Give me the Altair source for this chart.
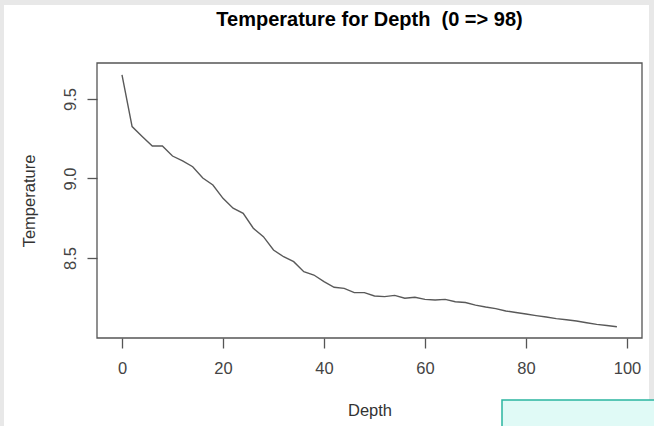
import altair as alt
import pandas as pd

depth = [0, 2, 4, 6, 8, 10, 12, 14, 16, 18, 20, 22, 24, 26, 28, 30, 32, 34, 36, 38,
         40, 42, 44, 46, 48, 50, 52, 54, 56, 58, 60, 62, 64, 66, 68, 70, 72, 74, 76, 78,
         80, 82, 84, 86, 88, 90, 92, 94, 96, 98]
temperature = [9.651, 9.326, 9.264, 9.204, 9.204, 9.141, 9.110, 9.074, 9.003, 8.959,
               8.875, 8.813, 8.781, 8.687, 8.634, 8.550, 8.508, 8.477, 8.414, 8.393,
               8.351, 8.316, 8.309, 8.282, 8.282, 8.261, 8.257, 8.265, 8.247, 8.253,
               8.240, 8.236, 8.240, 8.225, 8.220, 8.204, 8.192, 8.182, 8.167, 8.157,
               8.148, 8.138, 8.129, 8.119, 8.112, 8.104, 8.093, 8.083, 8.076, 8.068]
x_ticks = [0, 20, 40, 60, 80, 100]
y_ticks = [8.5, 9.0, 9.5]
title_text = ["Temperature for Depth \u00a0(0 => 98)"]

W, H = 545, 275
FONT = "Liberation Sans"
GREY = "#555555"
FS = 16.5

df = pd.DataFrame({"Depth": depth, "Temperature": temperature})
one = pd.DataFrame({"k": [0]})
tdf = pd.DataFrame({"t": title_text})

panel = alt.Chart(one).mark_rect(fill="white", strokeOpacity=0).encode(
    x=alt.value(-93), x2=alt.value(552), y=alt.value(-58), y2=alt.value(370)
)

cyan = alt.Chart(one).mark_rect(fill="#e0faf6", stroke="#2ab5a0", strokeWidth=1.5).encode(
    x=alt.value(405), x2=alt.value(570), y=alt.value(337), y2=alt.value(380)
)

title = alt.Chart(tdf).mark_text(font=FONT, fontSize=20, fontWeight="bold", color="black",
                                 align="center", baseline="middle").encode(
    text="t:N", x=alt.value(W / 2), y=alt.value(-43)
)

line = alt.Chart(df).mark_line(color="#595959", strokeWidth=1.4).encode(
    x=alt.X("Depth:Q",
            scale=alt.Scale(domain=[-4.95, 102.97], nice=False, zero=False),
            axis=alt.Axis(values=x_ticks, title="Depth", labelPadding=12,
                          titlePadding=26, zindex=1)),
    y=alt.Y("Temperature:Q",
            scale=alt.Scale(domain=[7.997, 9.726], nice=False, zero=False),
            axis=alt.Axis(values=y_ticks, format=".1f", title="Temperature",
                          labelAngle=270, labelAlign="center", labelBaseline="bottom",
                          labelPadding=9, titlePadding=25, zindex=1)),
)

frame = alt.Chart(one).mark_rect(fillOpacity=0, stroke=GREY, strokeWidth=1.3).encode(
    x=alt.value(0), x2=alt.value(W), y=alt.value(0), y2=alt.value(H)
)

chart = alt.layer(panel, cyan, title, line, frame).properties(
    width=W, height=H,
    autosize=alt.AutoSizeParams(type="none"),
    padding={"left": 97, "top": 63, "right": 12, "bottom": 88},
    background="#e8e8e8",
).configure_view(stroke=None).configure_axis(
    grid=False, domain=False, tickColor=GREY, tickSize=10, tickWidth=1.3,
    labelFont=FONT, labelFontSize=FS, labelColor="#444444",
    titleFont=FONT, titleFontSize=FS, titleFontWeight="normal", titleColor="#333333",
)

chart.save("out.html", embed_options={"renderer": "svg", "actions": False})
